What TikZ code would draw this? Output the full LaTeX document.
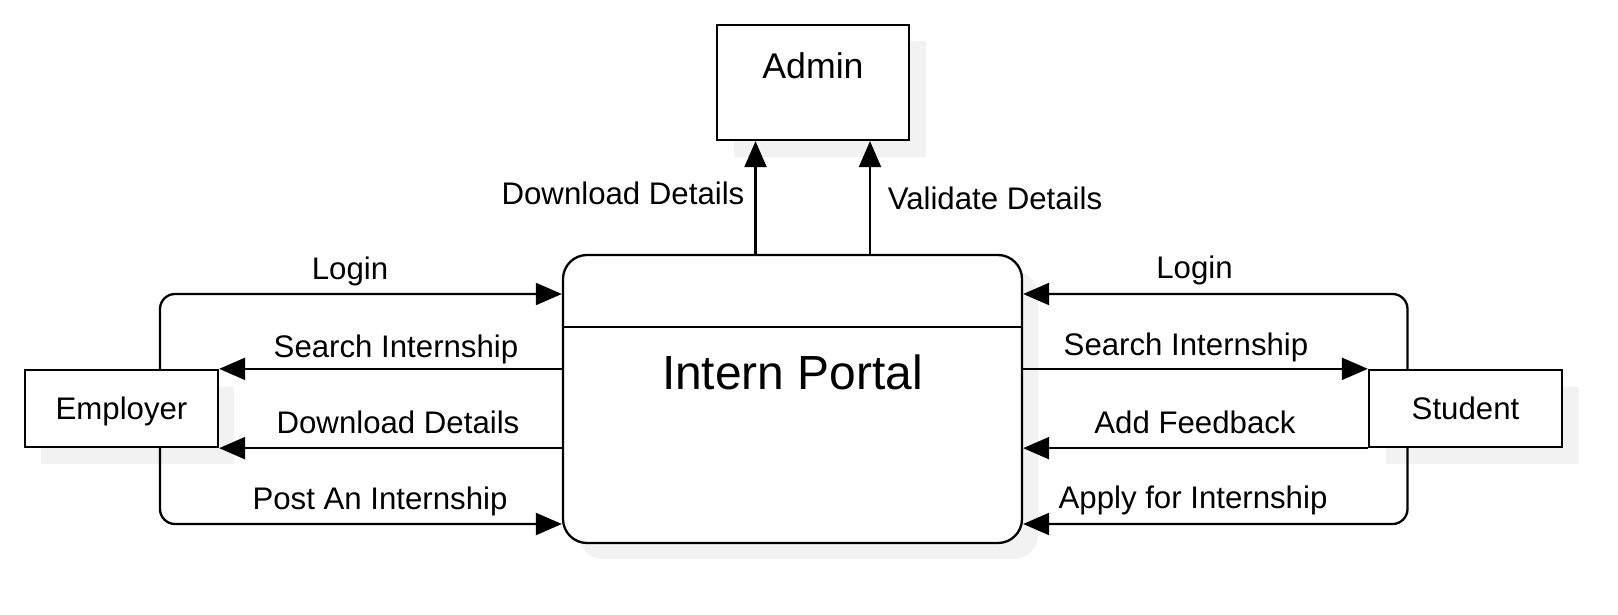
\documentclass[tikz,border=0pt]{standalone}
\usepackage{fontspec}
\setmainfont{Liberation Sans}
\usetikzlibrary{arrows.meta}
\begin{document}
\begin{tikzpicture}[x=1pt,y=-1pt,
  lw/.style={line width=2.3pt},
  ent/.style={draw, lw, fill=white, inner sep=0pt},
  shadowfill/.style={fill=black!5, draw=none},
  lbl/.style={font=\fontsize{31.2}{31.2}\selectfont, text height=22.3pt, text depth=0pt, inner sep=0pt},
  flow/.style={lw, -{Triangle[length=26pt,width=22pt]}, rounded corners=15pt},
]
\useasboundingbox (0,0) rectangle (1618,615);
% shadows
\fill[shadowfill] (734,41) rectangle (926,157);
\fill[shadowfill, rounded corners=24pt] (579,271) rectangle (1038,559);
\fill[shadowfill] (41,387) rectangle (234,464);
\fill[shadowfill] (1386,387) rectangle (1579,464);
% entities
\node[ent, minimum width=192pt, minimum height=115pt] (admin) at (813,82.5) {};
\node[lbl, font=\fontsize{35.7}{35.7}\selectfont, text height=25.6pt] (admintxt) at (813,66) {Admin};
\node[ent, rounded corners=24pt, minimum width=459pt, minimum height=288pt] (portal) at (792.5,399) {};
\draw[lw] (portal.west |- 0,327) -- (portal.east |- 0,327);
\node[lbl, font=\fontsize{47.9}{47.9}\selectfont, text height=34.3pt] (portaltxt) at (792.5,372.5) {Intern Portal};
\node[ent, minimum width=193pt, minimum height=77pt] (employer) at (121.5,408.5) {};
\node[lbl] (employertxt) at (121.5,408.5) {Employer};
\node[ent, minimum width=193pt, minimum height=77pt] (student) at (1465.5,408.5) {};
\node[lbl] (studenttxt) at (1465.5,408.5) {Student};
% admin flows
\draw[flow] (portal.north -| 755.5,0) -- (admin.south -| 755.5,0);
\draw[flow] (portal.north -| 870,0) -- (admin.south -| 870,0);
\node[lbl] (l1) at (623,193.5) {Download Details};
\node[lbl] (l2) at (995,198.5) {Validate Details};
% employer flows
\draw[flow] (employer.north -| 160,0) |- (portal.west |- 0,294);
\draw[flow] (portal.west |- employer.north east) -- (employer.north east);
\draw[flow] (portal.west |- employer.south east) -- (employer.south east);
\draw[flow] (employer.south -| 160,0) |- (portal.west |- 0,524);
\node[lbl] (l3) at (350,268.5) {Login};
\node[lbl] (l4) at (396,346) {Search Internship};
\node[lbl] (l5) at (398,422) {Download Details};
\node[lbl] (l6) at (380,498.5) {Post An Internship};
% student flows
\draw[flow] (student.north -| 1407.5,0) |- (portal.east |- 0,294);
\draw[flow] (portal.east |- student.north west) -- (student.north west);
\draw[flow] (student.south west) -- (portal.east |- student.south west);
\draw[flow] (student.south -| 1407.5,0) |- (portal.east |- 0,524);
\node[lbl] (r1) at (1194.5,267) {Login};
\node[lbl] (r2) at (1186,344) {Search Internship};
\node[lbl] (r3) at (1195,422) {Add Feedback};
\node[lbl] (r4) at (1193,497) {Apply for Internship};
\end{tikzpicture}
\end{document}
